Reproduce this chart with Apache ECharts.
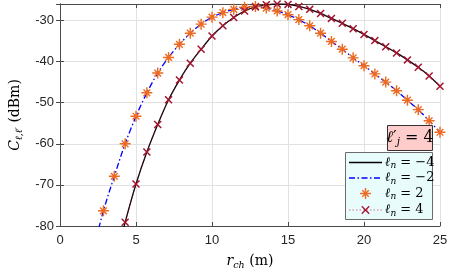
<!DOCTYPE html>
<html><head><meta charset="utf-8">
<script src="https://cdn.jsdelivr.net/npm/echarts@6/dist/echarts.min.js"></script>
<style>html,body{margin:0;padding:0;background:#fff}#c{width:457px;height:271px}</style>
</head><body><div id="c"></div>
<script>
// r_ch sample positions (m)
const rch = [2.143, 2.857, 3.571, 4.286, 5.000, 5.714, 6.429, 7.143, 7.857, 8.571, 9.286,
  10.000, 10.714, 11.429, 12.143, 12.857, 13.571, 14.286, 15.000, 15.714, 16.429,
  17.143, 17.857, 18.571, 19.286, 20.000, 20.714, 21.429, 22.143, 22.857, 23.571, 24.286, 25.000];
// ℓn = -2 (line) and ℓn = 2 (markers) : same curve
const lnNeg2 = [-86.5, -76.3, -67.9, -60.0, -53.3, -47.6, -42.8, -39.0, -35.8, -33.1, -30.9,
  -29.2, -28.1, -27.3, -26.8, -26.6, -27.0, -27.7, -28.6, -29.8, -31.3,
  -33.1, -35.1, -37.0, -39.1, -41.0, -43.0, -45.0, -47.1, -49.4, -51.7, -54.4, -57.2];
const lnPos2 = [null, -76.3, -67.9, -60.0, -53.3, -47.6, -42.8, -39.0, -35.8, -33.1, -30.9,
  -29.2, -28.1, -27.3, -26.8, -26.6, -27.0, -27.7, -28.6, -29.8, -31.3,
  -33.1, -35.1, -37.0, -39.1, -41.0, -43.0, -45.0, -47.1, -49.4, -51.7, -54.4, -57.2];
// ℓn = -4 (line) and ℓn = 4 (markers + dotted line) : same curve
const lnNeg4 = [null, null, -89.5, -79.1, -69.8, -62.0, -55.3, -49.3, -44.5, -40.4, -37.0,
  -33.8, -31.3, -29.3, -27.7, -26.7, -26.2, -26.0, -26.1, -26.6, -27.3,
  -28.3, -29.5, -30.7, -32.0, -33.4, -34.9, -36.4, -37.9, -39.6, -41.4, -43.5, -46.0];
const lnPos4 = [null, null, null, -79.1, -69.8, -62.0, -55.3, -49.3, -44.5, -40.4, -37.0,
  -33.8, -31.3, -29.3, -27.7, -26.7, -26.2, -26.0, -26.1, -26.6, -27.3,
  -28.3, -29.5, -30.7, -32.0, -33.4, -34.9, -36.4, -37.9, -39.6, -41.4, -43.5, -46.0];
const xTickLabels = ['0', '5', '10', '15', '20', '25'];
const yTickLabels = ['-80', '-70', '-60', '-50', '-40', '-30'];

const pairs = arr => rch.map((x, i) => [x, arr[i]]);
const STAR = 'path://M4.35,0L5.65,0L5.65,10L4.35,10Z M0,4.35L10,4.35L10,5.65L0,5.65Z M1.5,2.4L2.4,1.5L8.5,7.6L7.6,8.5Z M7.6,1.5L8.5,2.4L2.4,8.5L1.5,7.6Z';
const CROSS = 'path://M0,1.3L1.3,0L10,8.7L8.7,10Z M8.7,0L10,1.3L1.3,10L0,8.7Z';
const ORANGE = '#EC6A22', DRED = '#A2142F';
const SERIF = 'DejaVu Serif';
const tickFont = {fontFamily: 'Liberation Sans', fontSize: 13, color: '#262626'};
const mathRich = {
  i: {fontFamily: SERIF, fontStyle: 'italic', fontSize: 14, lineHeight: 15, color: '#000'},
  r: {fontFamily: SERIF, fontSize: 14, lineHeight: 15, color: '#000'},
  s: {fontFamily: SERIF, fontStyle: 'italic', fontSize: 9.5, lineHeight: 10, padding: [8, 0, 0, 0], color: '#000'}
};
// legend glyph helpers (bars as polygons)
function bar(cx, cy, ang, half, w, fill, z) {
  const c = Math.cos(ang), s = Math.sin(ang), nx = -s * w / 2, ny = c * w / 2;
  return {type: 'polygon', z: z, shape: {points: [
    [cx - c * half + nx, cy - s * half + ny], [cx + c * half + nx, cy + s * half + ny],
    [cx + c * half - nx, cy + s * half - ny], [cx - c * half - nx, cy - s * half - ny]]},
    style: {fill: fill}};
}
const starGlyph = (cx, cy) => [bar(cx, cy, 0, 5.5, 1.4, ORANGE, 102), bar(cx, cy, Math.PI / 2, 5.5, 1.4, ORANGE, 102),
  bar(cx, cy, Math.PI / 4, 4.6, 1.4, ORANGE, 102), bar(cx, cy, -Math.PI / 4, 4.6, 1.4, ORANGE, 102)];
const crossGlyph = (cx, cy) => [bar(cx, cy, Math.PI / 4, 5.3, 1.3, DRED, 102), bar(cx, cy, -Math.PI / 4, 5.3, 1.3, DRED, 102)];

const chart = echarts.init(document.getElementById('c'), null, {renderer: 'canvas'});
const axisLineStyle = {color: '#4a4a4a', width: 1};
chart.setOption({
  animation: false,
  grid: {left: 60, right: 17, top: 4, bottom: 45, containLabel: false, outerBoundsMode: 'none'},
  xAxis: [{
    type: 'value', min: 0, max: 25, interval: 5,
    axisLine: {show: true, lineStyle: axisLineStyle},
    axisTick: {show: true, inside: true, length: 4, lineStyle: axisLineStyle},
    axisLabel: Object.assign({margin: 8, formatter: v => xTickLabels.indexOf(String(v)) >= 0 ? String(v) : ''}, tickFont),
    splitLine: {show: true, lineStyle: {color: '#e2e2e2', width: 1}},
    name: '{i|r}{s|ch}{r| (m)}', nameLocation: 'middle', nameGap: 28,
    nameTextStyle: {rich: mathRich}
  }, {
    type: 'value', min: 0, max: 25, interval: 5, position: 'top',
    axisLine: {show: true, lineStyle: axisLineStyle},
    axisTick: {show: true, inside: true, length: 4, lineStyle: axisLineStyle},
    axisLabel: {show: false}, splitLine: {show: false}
  }],
  yAxis: [{
    type: 'value', min: -80, max: -26, interval: 10,
    axisLine: {show: true, lineStyle: axisLineStyle},
    axisTick: {show: true, inside: true, length: 4, lineStyle: axisLineStyle},
    axisLabel: Object.assign({margin: 6, showMaxLabel: false,
      formatter: v => yTickLabels.indexOf(String(v)) >= 0 ? String(v) : ''}, tickFont),
    splitLine: {show: true, lineStyle: {color: '#e2e2e2', width: 1}},
    name: '{i|C}{s|ℓ,ℓ′}{r| (dBm)}', nameLocation: 'middle', nameGap: 37, nameRotate: 90,
    nameTextStyle: {rich: mathRich}
  }, {
    type: 'value', min: -80, max: -26, interval: 10, position: 'right',
    axisLine: {show: true, lineStyle: axisLineStyle},
    axisTick: {show: true, inside: true, length: 4, lineStyle: axisLineStyle},
    axisLabel: {show: false}, splitLine: {show: false}
  }],
  series: [
    {name: 'ℓn = −4', type: 'line', data: pairs(lnNeg4), smooth: 0.3, showSymbol: false, symbol: 'none',
      lineStyle: {color: '#000', width: 1.3}, clip: true, z: 2},
    {name: 'ℓn = −2', type: 'line', data: pairs(lnNeg2), smooth: 0.3, symbol: 'none',
      lineStyle: {color: '#0000FF', width: 1.3, type: [6, 2.5, 1.5, 2.5]}, clip: true, z: 3},
    {name: 'ℓn = 2', type: 'line', data: pairs(lnPos2), symbol: STAR, symbolSize: 11, symbolKeepAspect: true,
      lineStyle: {width: 0, opacity: 0}, itemStyle: {color: ORANGE, opacity: 1}, clip: true, z: 4},
    {name: 'ℓn = 4', type: 'line', data: pairs(lnPos4), smooth: 0.3, symbol: CROSS, symbolSize: 8, symbolKeepAspect: true,
      lineStyle: {color: DRED, width: 1, type: 'dotted', opacity: 0.6}, itemStyle: {color: DRED}, clip: true, z: 5}
  ],
  graphic: [
    {type: 'rect', shape: {x: 387.5, y: 125.5, width: 45, height: 25}, style: {fill: '#FFCCCC', stroke: '#333', lineWidth: 1}, z: 100},
    {type: 'text', x: 410, y: 138, z: 101, style: {
      text: '{i|ℓ}{r|′}{s|j}{r| = 4}', align: 'center', verticalAlign: 'middle',
      rich: {
        i: {fontFamily: SERIF, fontStyle: 'italic', fontSize: 16, lineHeight: 17, fill: '#000'},
        r: {fontFamily: SERIF, fontSize: 16, lineHeight: 17, fill: '#000'},
        s: {fontFamily: SERIF, fontStyle: 'italic', fontSize: 10.5, lineHeight: 11, padding: [9, 0, 0, 0], fill: '#000'}
      }}},
    {type: 'rect', shape: {x: 345.5, y: 152.5, width: 87, height: 67}, style: {fill: '#E8FCFC', stroke: '#6b6b6b', lineWidth: 1}, z: 100},
    {type: 'line', shape: {x1: 349, y1: 162.5, x2: 382, y2: 162.5}, style: {stroke: '#000', lineWidth: 1.3}, z: 101},
    {type: 'line', shape: {x1: 349, y1: 178, x2: 382, y2: 178}, style: {stroke: '#0000FF', lineWidth: 1.3, lineDash: [6, 2.5, 1.5, 2.5]}, z: 101},
    ...starGlyph(365.5, 193.5),
    {type: 'line', shape: {x1: 349, y1: 210, x2: 382, y2: 210}, style: {stroke: '#d07090', lineWidth: 1, lineDash: [1.5, 2]}, z: 101},
    ...crossGlyph(365.5, 210),
    ...[['−4', 162.5], ['−2', 178], ['2', 193.5], ['4', 210]].map(([v, y]) => ({
      type: 'text', x: 385, y: y, z: 101, style: {
        text: '{i|ℓ}{s|n}{r| = ' + v + '}', align: 'left', verticalAlign: 'middle',
        rich: {
          i: {fontFamily: SERIF, fontStyle: 'italic', fontSize: 13, lineHeight: 14, fill: '#000'},
          r: {fontFamily: SERIF, fontSize: 13, lineHeight: 14, fill: '#000'},
          s: {fontFamily: SERIF, fontStyle: 'italic', fontSize: 9, lineHeight: 10, padding: [7, 0, 0, 0], fill: '#000'}
        }}
    }))
  ]
});
</script>
</body></html>
